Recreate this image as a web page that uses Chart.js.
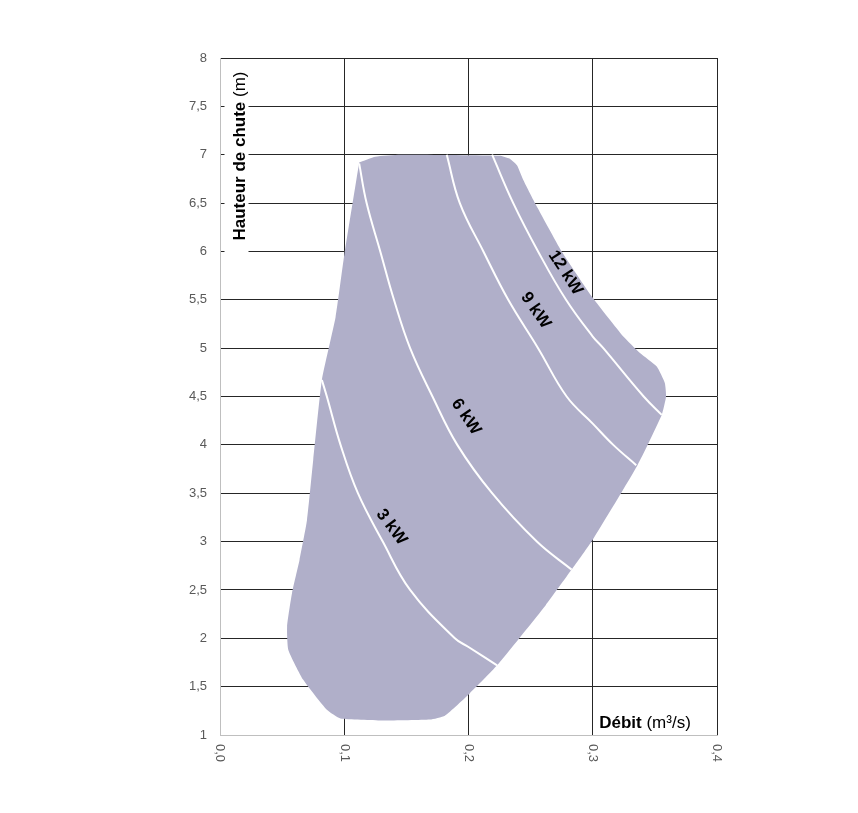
<!DOCTYPE html>
<html>
<head>
<meta charset="utf-8">
<script src="https://cdn.jsdelivr.net/npm/chart.js@4/dist/chart.umd.min.js"></script>
<style>
  body { margin: 0; background: #fff; }
</style>
</head>
<body>
<canvas id="myChart" width="858" height="813"></canvas>
<script>
// operating envelope of the turbine (debit m3/s, hauteur m), clockwise from top-left
var envelopeX = [0.112, 0.125, 0.145, 0.225, 0.233, 0.239, 0.244, 0.2535, 0.275, 0.300, 0.3246, 0.338, 0.3515, 0.358, 0.359, 0.3555, 0.336, 0.300, 0.283, 0.262, 0.223, 0.201, 0.181, 0.169, 0.130, 0.097, 0.086, 0.067, 0.055, 0.054, 0.058, 0.064, 0.070, 0.075, 0.082, 0.093, 0.100, 0.112];
var envelopeY = [6.92, 6.98, 7.00, 6.99, 6.96, 6.89, 6.74, 6.50, 6.00, 5.52, 5.12, 4.95, 4.81, 4.64, 4.50, 4.31, 3.79, 3.02, 2.71, 2.34, 1.72, 1.43, 1.20, 1.16, 1.15, 1.17, 1.26, 1.57, 1.88, 2.12, 2.47, 2.81, 3.22, 3.84, 4.67, 5.32, 5.96, 6.92];

// iso-power curves
var kw3X = [0.082, 0.086, 0.097, 0.111, 0.131, 0.153, 0.189, 0.200, 0.223];
var kw3Y = [4.67, 4.50, 4.00, 3.50, 3.00, 2.50, 2.00, 1.91, 1.72];
var kw6X = [0.112, 0.118, 0.129, 0.140, 0.153, 0.171, 0.191, 0.219, 0.255, 0.283];
var kw6Y = [6.91, 6.50, 6.00, 5.50, 5.00, 4.50, 4.00, 3.50, 3.00, 2.71];
var kw9X = [0.1825, 0.193, 0.212, 0.232, 0.256, 0.279, 0.300, 0.3165, 0.335];
var kw9Y = [7.00, 6.50, 6.00, 5.50, 5.00, 4.50, 4.22, 4.00, 3.79];
var kw12X = [0.219, 0.236, 0.256, 0.2785, 0.300, 0.3085, 0.341, 0.3555];
var kw12Y = [7.00, 6.50, 6.00, 5.50, 5.12, 5.00, 4.50, 4.31];

// curve labels, anchored in data units
var curveLabels = ['3 kW', '6 kW', '9 kW', '12 kW'];
var curveLabelX = [0.138, 0.198, 0.254, 0.278];
var curveLabelY = [3.15, 4.29, 5.39, 5.78];
var curveLabelAngle = [53, 56, 55, 57];

var xTicks = [0, 0.1, 0.2, 0.3, 0.4];
var yMin = 1, yMax = 8, yStep = 0.5;

function toPoints(xs, ys) {
  var pts = [];
  for (var i = 0; i < xs.length; i++) {
    pts.push({ x: xs[i], y: ys[i] });
  }
  return pts;
}

function comma(v, digits) {
  return v.toFixed(digits).replace('.', ',');
}

function curve(xs, ys) {
  return {
    data: toPoints(xs, ys),
    showLine: true,
    borderColor: '#ffffff',
    borderWidth: 2,
    pointRadius: 0,
    fill: false,
    order: 1,
    tension: 0.4
  };
}

var gridDark = '#262626';
var tickGrey = '#595959';

var overlay = {
  id: 'overlay',
  afterDraw: function(chart) {
    var ctx = chart.ctx;
    var xs = chart.scales.x;
    var ys = chart.scales.y;
    ctx.save();

    // x tick labels, rotated clockwise
    ctx.fillStyle = tickGrey;
    ctx.font = '13px "Liberation Sans", Arial, sans-serif';
    ctx.textAlign = 'left';
    ctx.textBaseline = 'middle';
    for (var i = 0; i < xTicks.length; i++) {
      ctx.save();
      ctx.translate(xs.getPixelForValue(xTicks[i]), ys.bottom + 9);
      ctx.rotate(Math.PI / 2);
      ctx.fillText(comma(xTicks[i], 1), 0, 0);
      ctx.restore();
    }

    // labels along the curves
    ctx.fillStyle = '#000';
    ctx.font = 'bold 17px "Liberation Sans", Arial, sans-serif';
    ctx.textAlign = 'center';
    ctx.textBaseline = 'middle';
    for (var j = 0; j < curveLabels.length; j++) {
      ctx.save();
      ctx.translate(xs.getPixelForValue(curveLabelX[j]), ys.getPixelForValue(curveLabelY[j]));
      ctx.rotate(curveLabelAngle[j] * Math.PI / 180);
      ctx.fillText(curveLabels[j], 0, 0);
      ctx.restore();
    }

    // y axis title on a white box
    ctx.fillStyle = '#fff';
    ctx.fillRect(xs.left + 4.5, ys.top + 4, 24, 194);
    ctx.save();
    ctx.translate(xs.left + 25, ys.top + 98);
    ctx.rotate(-Math.PI / 2);
    drawTitle(ctx, 'Hauteur de chute', ' (m)', 0, 0);
    ctx.restore();

    // x axis title on a white box
    ctx.fillStyle = '#fff';
    ctx.fillRect(593, ys.bottom - 28, 104, 27);
    drawTitle(ctx, 'Débit', ' (m³/s)', 645, ys.bottom - 7);

    ctx.restore();
  }
};

function drawTitle(ctx, boldPart, normalPart, cx, baseY) {
  var bold = 'bold 17px "Liberation Sans", Arial, sans-serif';
  var normal = '17px "Liberation Sans", Arial, sans-serif';
  ctx.font = bold;
  var w1 = ctx.measureText(boldPart).width;
  ctx.font = normal;
  var w2 = ctx.measureText(normalPart).width;
  var x0 = cx - (w1 + w2) / 2;
  ctx.fillStyle = '#000';
  ctx.textAlign = 'left';
  ctx.textBaseline = 'alphabetic';
  ctx.font = bold;
  ctx.fillText(boldPart, x0, baseY);
  ctx.font = normal;
  ctx.fillText(normalPart, x0 + w1, baseY);
}

var ctx = document.getElementById('myChart').getContext('2d');
var myChart = new Chart(ctx, {
  type: 'scatter',
  data: {
    datasets: [
      {
        data: toPoints(envelopeX, envelopeY),
        showLine: true,
        borderWidth: 0,
        borderColor: 'rgba(0,0,0,0)',
        backgroundColor: '#b0afc9',
        pointRadius: 0,
        tension: 0.15,
        order: 2,
        fill: 'shape'
      },
      curve(kw3X, kw3Y),
      curve(kw6X, kw6Y),
      curve(kw9X, kw9Y),
      curve(kw12X, kw12Y)
    ]
  },
  options: {
    responsive: false,
    animation: false,
    layout: { padding: { top: 58, right: 141, left: 0, bottom: 0 } },
    plugins: {
      legend: { display: false },
      tooltip: { enabled: false }
    },
    scales: {
      x: {
        type: 'linear',
        min: 0,
        max: 0.4,
        z: 1,
        ticks: { stepSize: 0.1, display: false },
        grid: {
          drawTicks: false,
          color: function(c) { return c.tick && c.tick.value === 0 ? 'rgba(0,0,0,0)' : gridDark; }
        },
        border: { color: '#bfbfbf' },
        afterFit: function(scale) { scale.height = 78; }
      },
      y: {
        type: 'linear',
        min: yMin,
        max: yMax,
        z: 1,
        ticks: {
          stepSize: yStep,
          padding: 13,
          color: tickGrey,
          font: { family: '"Liberation Sans", Arial, sans-serif', size: 13 },
          callback: function(v) { return Number.isInteger(v) ? String(v) : comma(v, 1); }
        },
        grid: {
          drawTicks: false,
          color: function(c) { return c.tick && c.tick.value === yMin ? 'rgba(0,0,0,0)' : gridDark; }
        },
        border: { color: '#bfbfbf' },
        afterFit: function(scale) { scale.width = 220; }
      }
    }
  },
  plugins: [overlay]
});
</script>
</body>
</html>
